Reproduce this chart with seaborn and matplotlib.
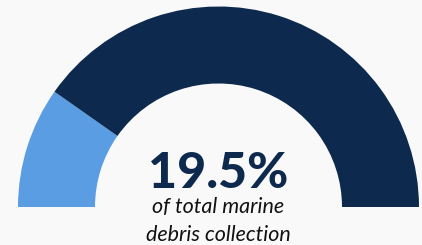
import matplotlib
matplotlib.use("Agg")
import matplotlib.pyplot as plt
import seaborn as sns

# ── Data ──────────────────────────────────────────────────────────────────────
share_pct = 19.5
labels = ["Share", "Rest"]
values = [share_pct, 100 - share_pct]
colors = ["#5a9de3", "#0d2a4e"]
main_label = f"{share_pct}%"
sub_label = ["of total marine", "debris collection"]

# ── Style ─────────────────────────────────────────────────────────────────────
sns.set_theme(style="white")
plt.rcParams["font.family"] = ["Lato", "DejaVu Sans"]
bg = "#f9f9f9"

fig = plt.figure(figsize=(4.22, 2.45), dpi=100, facecolor=bg)
ax = fig.add_axes([0, 0, 1, 1])
ax.set_facecolor(bg)

# half donut: the lower half is an invisible wedge
cx, cy = 218.5, 38
r_out, r_in = 200.5, 123.5
wedges, _ = ax.pie(values + [100], colors=colors + ["none"], startangle=180,
                   counterclock=False, center=(cx, cy), radius=r_out,
                   wedgeprops=dict(width=r_out - r_in, linewidth=0))

ax.set_xlim(0, 422)
ax.set_ylim(0, 245)
ax.set_aspect("equal")
ax.axis("off")

ax.text(cx, 57, main_label, ha="center", va="baseline", fontsize=36,
        fontweight="black", color="#0d2a4e")
for i, line in enumerate(sub_label):
    ax.text(cx, 32 - 28 * i, line, ha="center", va="baseline", fontsize=15.5,
            family="Lato", fontstyle="italic", fontweight="normal", color="#111111")

plt.savefig("out.png", dpi=100, facecolor=bg)
